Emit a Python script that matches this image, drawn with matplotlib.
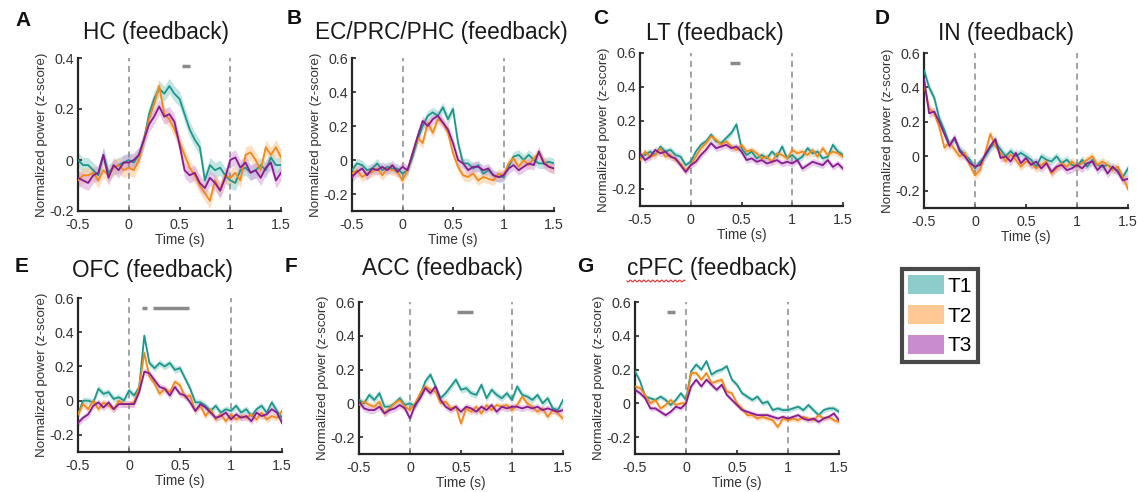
import numpy as np
import matplotlib
matplotlib.use("Agg")
import matplotlib.pyplot as plt
from matplotlib.patches import Patch
from matplotlib.lines import Line2D

plt.rcParams['font.family'] = ['Liberation Sans', 'DejaVu Sans']

# ---------------- data ----------------
time = np.round(np.arange(-0.5, 1.5001, 0.05), 3)

conditions = ["T1", "T2", "T3"]

titles = ["HC (feedback)", "EC/PRC/PHC (feedback)", "LT (feedback)", "IN (feedback)",
          "OFC (feedback)", "ACC (feedback)", "cPFC (feedback)"]
letters = ["A", "B", "C", "D", "E", "F", "G"]

hc_t1 = [0.0, -0.02, -0.02, -0.04, -0.06, 0.02, -0.05, -0.03, -0.02, -0.01, 0.0, -0.01, 0.02, 0.08, 0.18, 0.24, 0.28, 0.26, 0.29, 0.26, 0.24, 0.18, 0.12, 0.08, 0.05, -0.08, -0.02, -0.04, -0.03, -0.06, -0.08, -0.09, -0.04, -0.03, -0.05, -0.04, -0.02, -0.04, 0.01, -0.02, -0.02]
hc_t2 = [-0.08, -0.06, -0.06, -0.05, -0.08, -0.04, -0.06, -0.03, -0.02, -0.04, -0.03, -0.04, 0.0, 0.08, 0.16, 0.22, 0.29, 0.18, 0.16, 0.12, 0.07, 0.02, -0.03, -0.06, -0.10, -0.13, -0.16, -0.08, -0.12, -0.06, -0.07, -0.05, -0.08, 0.02, 0.03, 0.0, -0.04, 0.05, 0.02, 0.05, 0.01]
hc_t3 = [-0.07, -0.08, -0.09, -0.06, -0.05, 0.02, -0.07, -0.02, -0.04, -0.01, -0.01, 0.0, 0.02, 0.08, 0.14, 0.17, 0.21, 0.17, 0.18, 0.15, 0.06, -0.04, -0.06, -0.05, -0.09, -0.11, -0.07, -0.09, -0.12, -0.07, 0.0, 0.01, -0.03, -0.01, -0.05, -0.04, -0.07, -0.03, -0.01, -0.08, -0.05]

ec_t1 = [-0.06, -0.02, -0.03, -0.06, -0.05, -0.02, -0.06, -0.04, -0.05, -0.05, -0.08, -0.06, 0.02, 0.12, 0.20, 0.26, 0.28, 0.26, 0.31, 0.24, 0.30, 0.10, -0.02, -0.02, -0.05, -0.03, -0.08, -0.06, -0.09, -0.10, -0.10, -0.04, 0.02, 0.03, 0.0, 0.03, 0.0, -0.02, -0.02, -0.01, -0.02]
ec_t2 = [-0.08, -0.06, -0.10, -0.08, -0.07, -0.05, -0.09, -0.05, -0.06, -0.07, -0.12, -0.06, 0.04, 0.13, 0.10, 0.22, 0.16, 0.24, 0.22, 0.16, 0.04, -0.04, -0.09, -0.10, -0.08, -0.12, -0.10, -0.11, -0.12, -0.08, -0.09, -0.02, 0.01, -0.04, 0.0, -0.03, 0.01, 0.04, -0.01, -0.04, -0.05]
ec_t3 = [-0.10, -0.07, -0.05, -0.09, -0.05, -0.06, -0.04, -0.06, -0.03, -0.07, -0.04, -0.06, 0.04, 0.14, 0.23, 0.20, 0.24, 0.26, 0.22, 0.18, 0.10, 0.0, -0.02, -0.06, -0.04, -0.04, -0.06, -0.05, -0.09, -0.10, -0.09, -0.05, -0.03, -0.06, -0.04, -0.02, -0.03, 0.05, -0.02, -0.04, -0.05]

lt_t1 = [-0.01, 0.0, 0.02, 0.0, 0.05, 0.02, 0.03, 0.0, -0.01, -0.06, -0.04, 0.02, 0.06, 0.08, 0.12, 0.08, 0.07, 0.10, 0.13, 0.18, 0.04, 0.0, 0.02, -0.02, 0.0, -0.02, 0.02, -0.01, 0.05, -0.02, 0.0, -0.03, -0.01, 0.04, 0.01, 0.02, -0.02, -0.01, 0.06, 0.02, 0.0]
lt_t2 = [-0.03, 0.02, -0.01, 0.0, 0.04, -0.01, 0.0, -0.03, -0.05, -0.09, -0.06, -0.01, 0.04, 0.07, 0.11, 0.09, 0.06, 0.08, 0.05, 0.03, 0.06, 0.02, 0.03, 0.01, -0.02, -0.01, -0.04, 0.01, 0.0, -0.02, 0.03, 0.01, 0.02, 0.0, 0.03, -0.01, 0.04, 0.0, 0.02, 0.01, -0.01]
lt_t3 = [0.01, -0.03, -0.01, 0.03, 0.01, 0.02, -0.01, -0.02, -0.06, -0.10, -0.06, -0.04, 0.0, 0.03, 0.07, 0.04, 0.05, 0.06, 0.04, 0.05, 0.02, -0.03, -0.02, -0.04, -0.03, -0.05, -0.04, -0.03, -0.05, -0.04, -0.05, -0.03, -0.08, -0.06, -0.04, -0.05, -0.06, -0.03, -0.07, -0.05, -0.08]

in_t1 = [0.50, 0.40, 0.34, 0.22, 0.15, 0.07, 0.10, 0.04, 0.01, -0.02, -0.07, -0.03, 0.0, 0.05, 0.08, 0.04, 0.0, 0.03, 0.0, 0.02, 0.0, -0.02, -0.06, 0.0, -0.02, -0.03, 0.0, -0.04, -0.02, -0.05, -0.06, -0.02, -0.06, -0.02, -0.05, -0.06, -0.05, -0.07, -0.08, -0.12, -0.07]
in_t2 = [0.42, 0.28, 0.25, 0.17, 0.05, 0.08, 0.04, 0.0, 0.02, -0.05, -0.11, -0.08, 0.02, 0.13, 0.06, 0.02, -0.03, 0.01, -0.02, -0.06, -0.03, -0.04, -0.07, -0.05, -0.03, -0.10, -0.07, -0.04, -0.06, -0.03, -0.06, -0.04, -0.02, 0.0, -0.05, -0.03, -0.05, -0.08, -0.06, -0.12, -0.19]
in_t3 = [0.45, 0.25, 0.26, 0.20, 0.13, 0.06, 0.11, 0.03, 0.0, -0.04, -0.06, -0.05, 0.01, 0.06, 0.10, -0.01, 0.0, -0.03, 0.02, -0.04, -0.01, -0.05, -0.03, -0.07, -0.04, -0.09, -0.06, -0.05, -0.08, -0.07, -0.05, -0.07, -0.04, -0.03, -0.08, -0.05, -0.10, -0.06, -0.09, -0.14, -0.13]

ofc_t1 = [-0.08, 0.0, 0.0, -0.01, 0.07, 0.04, 0.05, 0.01, 0.02, 0.0, 0.06, 0.03, 0.08, 0.38, 0.22, 0.19, 0.22, 0.20, 0.22, 0.18, 0.19, 0.13, 0.07, -0.01, -0.01, -0.03, -0.06, -0.03, -0.07, -0.05, -0.06, -0.03, -0.07, -0.05, -0.09, -0.05, -0.03, -0.07, -0.01, -0.06, -0.10]
ofc_t2 = [-0.08, -0.02, -0.05, 0.0, -0.05, -0.01, -0.03, -0.05, 0.0, -0.02, -0.02, -0.01, 0.08, 0.28, 0.14, 0.10, 0.04, 0.07, 0.05, 0.11, 0.09, 0.02, 0.03, -0.06, -0.03, -0.09, -0.05, -0.11, -0.08, -0.12, -0.08, -0.11, -0.09, -0.10, -0.08, -0.11, -0.07, -0.11, -0.09, -0.10, -0.06]
ofc_t3 = [-0.13, -0.10, -0.08, -0.03, -0.01, -0.04, -0.01, -0.05, -0.02, -0.02, -0.02, -0.02, 0.05, 0.17, 0.16, 0.12, 0.08, 0.07, 0.03, 0.08, 0.04, 0.03, -0.01, -0.06, -0.02, -0.04, -0.07, -0.10, -0.09, -0.07, -0.11, -0.08, -0.10, -0.09, -0.12, -0.07, -0.09, -0.08, -0.05, -0.07, -0.13]

acc_t1 = [0.02, 0.0, 0.05, 0.02, 0.06, -0.02, -0.02, 0.0, 0.03, -0.01, 0.0, -0.02, 0.05, 0.13, 0.17, 0.10, 0.03, 0.06, 0.10, 0.14, 0.08, 0.09, 0.06, 0.05, 0.11, 0.03, 0.08, 0.05, 0.03, 0.06, 0.02, 0.10, 0.05, 0.04, 0.02, 0.05, 0.0, 0.03, -0.03, -0.04, 0.02]
acc_t2 = [-0.01, 0.01, -0.01, -0.02, 0.01, -0.06, -0.03, 0.0, 0.02, -0.02, -0.04, 0.0, 0.06, 0.10, 0.08, 0.07, 0.0, 0.01, -0.03, -0.02, -0.12, -0.03, -0.05, -0.02, -0.06, -0.01, -0.04, -0.01, -0.02, -0.01, -0.04, -0.01, 0.04, 0.0, -0.02, -0.05, -0.03, -0.08, -0.04, -0.06, -0.09]
acc_t3 = [0.01, -0.03, -0.04, -0.04, -0.02, -0.06, -0.04, -0.03, -0.01, -0.03, -0.09, -0.01, 0.03, 0.09, 0.06, 0.10, 0.02, -0.02, -0.04, -0.02, -0.05, -0.02, -0.03, -0.05, -0.02, -0.04, -0.01, -0.05, -0.02, -0.03, -0.02, -0.02, -0.03, -0.02, -0.03, -0.02, -0.04, -0.03, -0.04, -0.05, -0.04]

cpfc_t1 = [0.19, 0.13, 0.04, 0.03, 0.02, 0.04, 0.02, -0.01, 0.02, 0.06, 0.02, 0.19, 0.23, 0.20, 0.25, 0.17, 0.19, 0.20, 0.22, 0.14, 0.11, 0.06, 0.04, 0.02, 0.04, 0.0, 0.01, -0.04, -0.03, -0.04, -0.04, -0.03, -0.02, -0.04, -0.01, -0.04, -0.07, -0.04, -0.03, -0.03, -0.05]
cpfc_t2 = [0.10, 0.09, 0.05, 0.0, 0.02, -0.03, -0.01, 0.02, -0.01, 0.0, 0.0, 0.18, 0.18, 0.14, 0.18, 0.12, 0.13, 0.14, 0.07, 0.06, 0.0, -0.03, -0.07, -0.07, -0.09, -0.08, -0.09, -0.10, -0.14, -0.09, -0.10, -0.09, -0.10, -0.08, -0.09, -0.10, -0.07, -0.09, -0.08, -0.10, -0.11]
cpfc_t3 = [0.08, 0.06, 0.03, -0.03, -0.03, -0.05, -0.07, -0.05, -0.02, -0.03, 0.0, 0.10, 0.14, 0.10, 0.14, 0.11, 0.08, 0.11, 0.05, 0.02, -0.01, -0.04, -0.05, -0.06, -0.07, -0.07, -0.07, -0.08, -0.09, -0.08, -0.09, -0.08, -0.07, -0.09, -0.10, -0.09, -0.11, -0.09, -0.08, -0.06, -0.10]

series = [
    [hc_t1, hc_t2, hc_t3],
    [ec_t1, ec_t2, ec_t3],
    [lt_t1, lt_t2, lt_t3],
    [in_t1, in_t2, in_t3],
    [ofc_t1, ofc_t2, ofc_t3],
    [acc_t1, acc_t2, acc_t3],
    [cpfc_t1, cpfc_t2, cpfc_t3],
]

# half-width of the shaded error band per panel
sem = [0.03, 0.03, 0.02, 0.025, 0.02, 0.02, 0.015]

# significance bars (start, end) and their height
sig_bars = [[(0.52, 0.60)], [], [(0.39, 0.49)], [], [(0.13, 0.18), (0.24, 0.59)], [(0.46, 0.62)], [(-0.19, -0.11)]]
sig_level = [0.37, 0.54, 0.54, 0.54, 0.54, 0.54, 0.54]

ylims = [(-0.2, 0.4), (-0.3, 0.6), (-0.3, 0.6), (-0.3, 0.6), (-0.3, 0.6), (-0.3, 0.6), (-0.3, 0.6)]
yticks = [[-0.2, 0, 0.2, 0.4], [-0.2, 0, 0.2, 0.4, 0.6], [-0.2, 0, 0.2, 0.4, 0.6],
          [-0.2, 0, 0.2, 0.4, 0.6], [-0.2, 0, 0.2, 0.4, 0.6], [-0.2, 0, 0.2, 0.4, 0.6],
          [-0.2, 0, 0.2, 0.4, 0.6]]
xticks = [-0.5, 0, 0.5, 1, 1.5]
xticklabels = ["-0.5", "0", "0.5", "1", "1.5"]

# ---------------- style ----------------
line_colors = ["#1f968c", "#f08a1c", "#861c8e"]
fill_colors = ["#8fd0cc", "#fcc690", "#d79fdb"]
legend_colors = ["#8ccccb", "#ffc995", "#c98ccc"]

W, H = 1137, 492
# axes boxes in pixels: left, right, top, bottom
boxes = [(78, 281, 58, 211), (352, 554, 58, 211), (640, 843, 53, 206), (924, 1128, 53, 208),
         (78, 282, 298, 452), (359, 563, 302, 454), (635, 839, 302, 454)]
title_pos = [(156, 32), (441, 32), (715, 33), (1006, 33), (152, 270), (443, 268), (712, 268)]
letter_pos = [(15, 20), (287, 19), (593, 18), (875, 19), (15, 267), (285, 267), (577, 266)]

fig = plt.figure(figsize=(W / 100, H / 100), dpi=100)
fig.patch.set_facecolor("white")

for i in range(7):
    l, r, t, b = boxes[i]
    ax = fig.add_axes([l / W, 1 - b / H, (r - l) / W, (b - t) / H])
    for k in range(3):
        y = np.array(series[i][k])
        ax.fill_between(time, y - sem[i], y + sem[i], color=fill_colors[k], alpha=0.55, lw=0, zorder=1)
    for k in range(3):
        ax.plot(time, series[i][k], color=line_colors[k], lw=1.3, zorder=3)
    for xv in (0, 1):
        ax.axvline(xv, color="#8a8a8a", lw=1.1, ls=(0, (4, 3)), zorder=2)
    for (s, e) in sig_bars[i]:
        ax.plot([s, e], [sig_level[i], sig_level[i]], color="#8a8a8a", lw=2.5, solid_capstyle="butt", zorder=4)
    ax.set_xlim(-0.5, 1.5)
    ax.set_ylim(*ylims[i])
    ax.set_xticks(xticks)
    ax.set_xticklabels(xticklabels)
    ax.set_yticks(yticks[i])
    ax.set_yticklabels([("0" if v == 0 else f"{v:.1f}") for v in yticks[i]])
    ax.tick_params(direction="in", length=3, width=1.2, colors="#262626", labelsize=10.3,
                   labelcolor="#333333")
    ax.tick_params(axis="x", pad=5)
    ax.tick_params(axis="y", pad=3)
    for sp in ("top", "right"):
        ax.spines[sp].set_visible(False)
    for sp in ("left", "bottom"):
        ax.spines[sp].set_linewidth(1.6)
        ax.spines[sp].set_color("#262626")
    ax.set_xlabel("Time (s)", fontsize=9.8, color="#333333", labelpad=1)
    ax.set_ylabel("Normalized power (z-score)", fontsize=9.6, color="#333333", labelpad=1)
    ax.patch.set_alpha(0)
    tx, ty = title_pos[i]
    fig.text(tx / W, 1 - ty / H, titles[i], fontsize=16.3, ha="center", va="center", color="#1a1a1a")
    lx, ly = letter_pos[i]
    fig.text(lx / W, 1 - ly / H, letters[i], fontsize=15, fontweight="bold", ha="left", va="center", color="#111111")

# spell-check style red wavy underline under "cPFC" in panel G title
wx = np.linspace(627, 685, 60)
wy = 281 + 1.0 * np.sin((wx - 627) * 1.4)
fig.add_artist(Line2D(wx / W, 1 - wy / H, color="#e03030", lw=0.8, transform=fig.transFigure))

handles = [Patch(facecolor=c, edgecolor="none") for c in legend_colors]
leg = fig.legend(handles, conditions, loc="upper left", bbox_to_anchor=(902 / W, 1 - 269 / H),
                 fontsize=15, handlelength=1.7, handleheight=1.0, handletextpad=0.2,
                 labelspacing=0.45, borderpad=0.3, borderaxespad=0, frameon=True, fancybox=False)
leg.get_frame().set_edgecolor("#1a1a1a")
leg.get_frame().set_linewidth(3)

fig.savefig("out.png", dpi=100)
